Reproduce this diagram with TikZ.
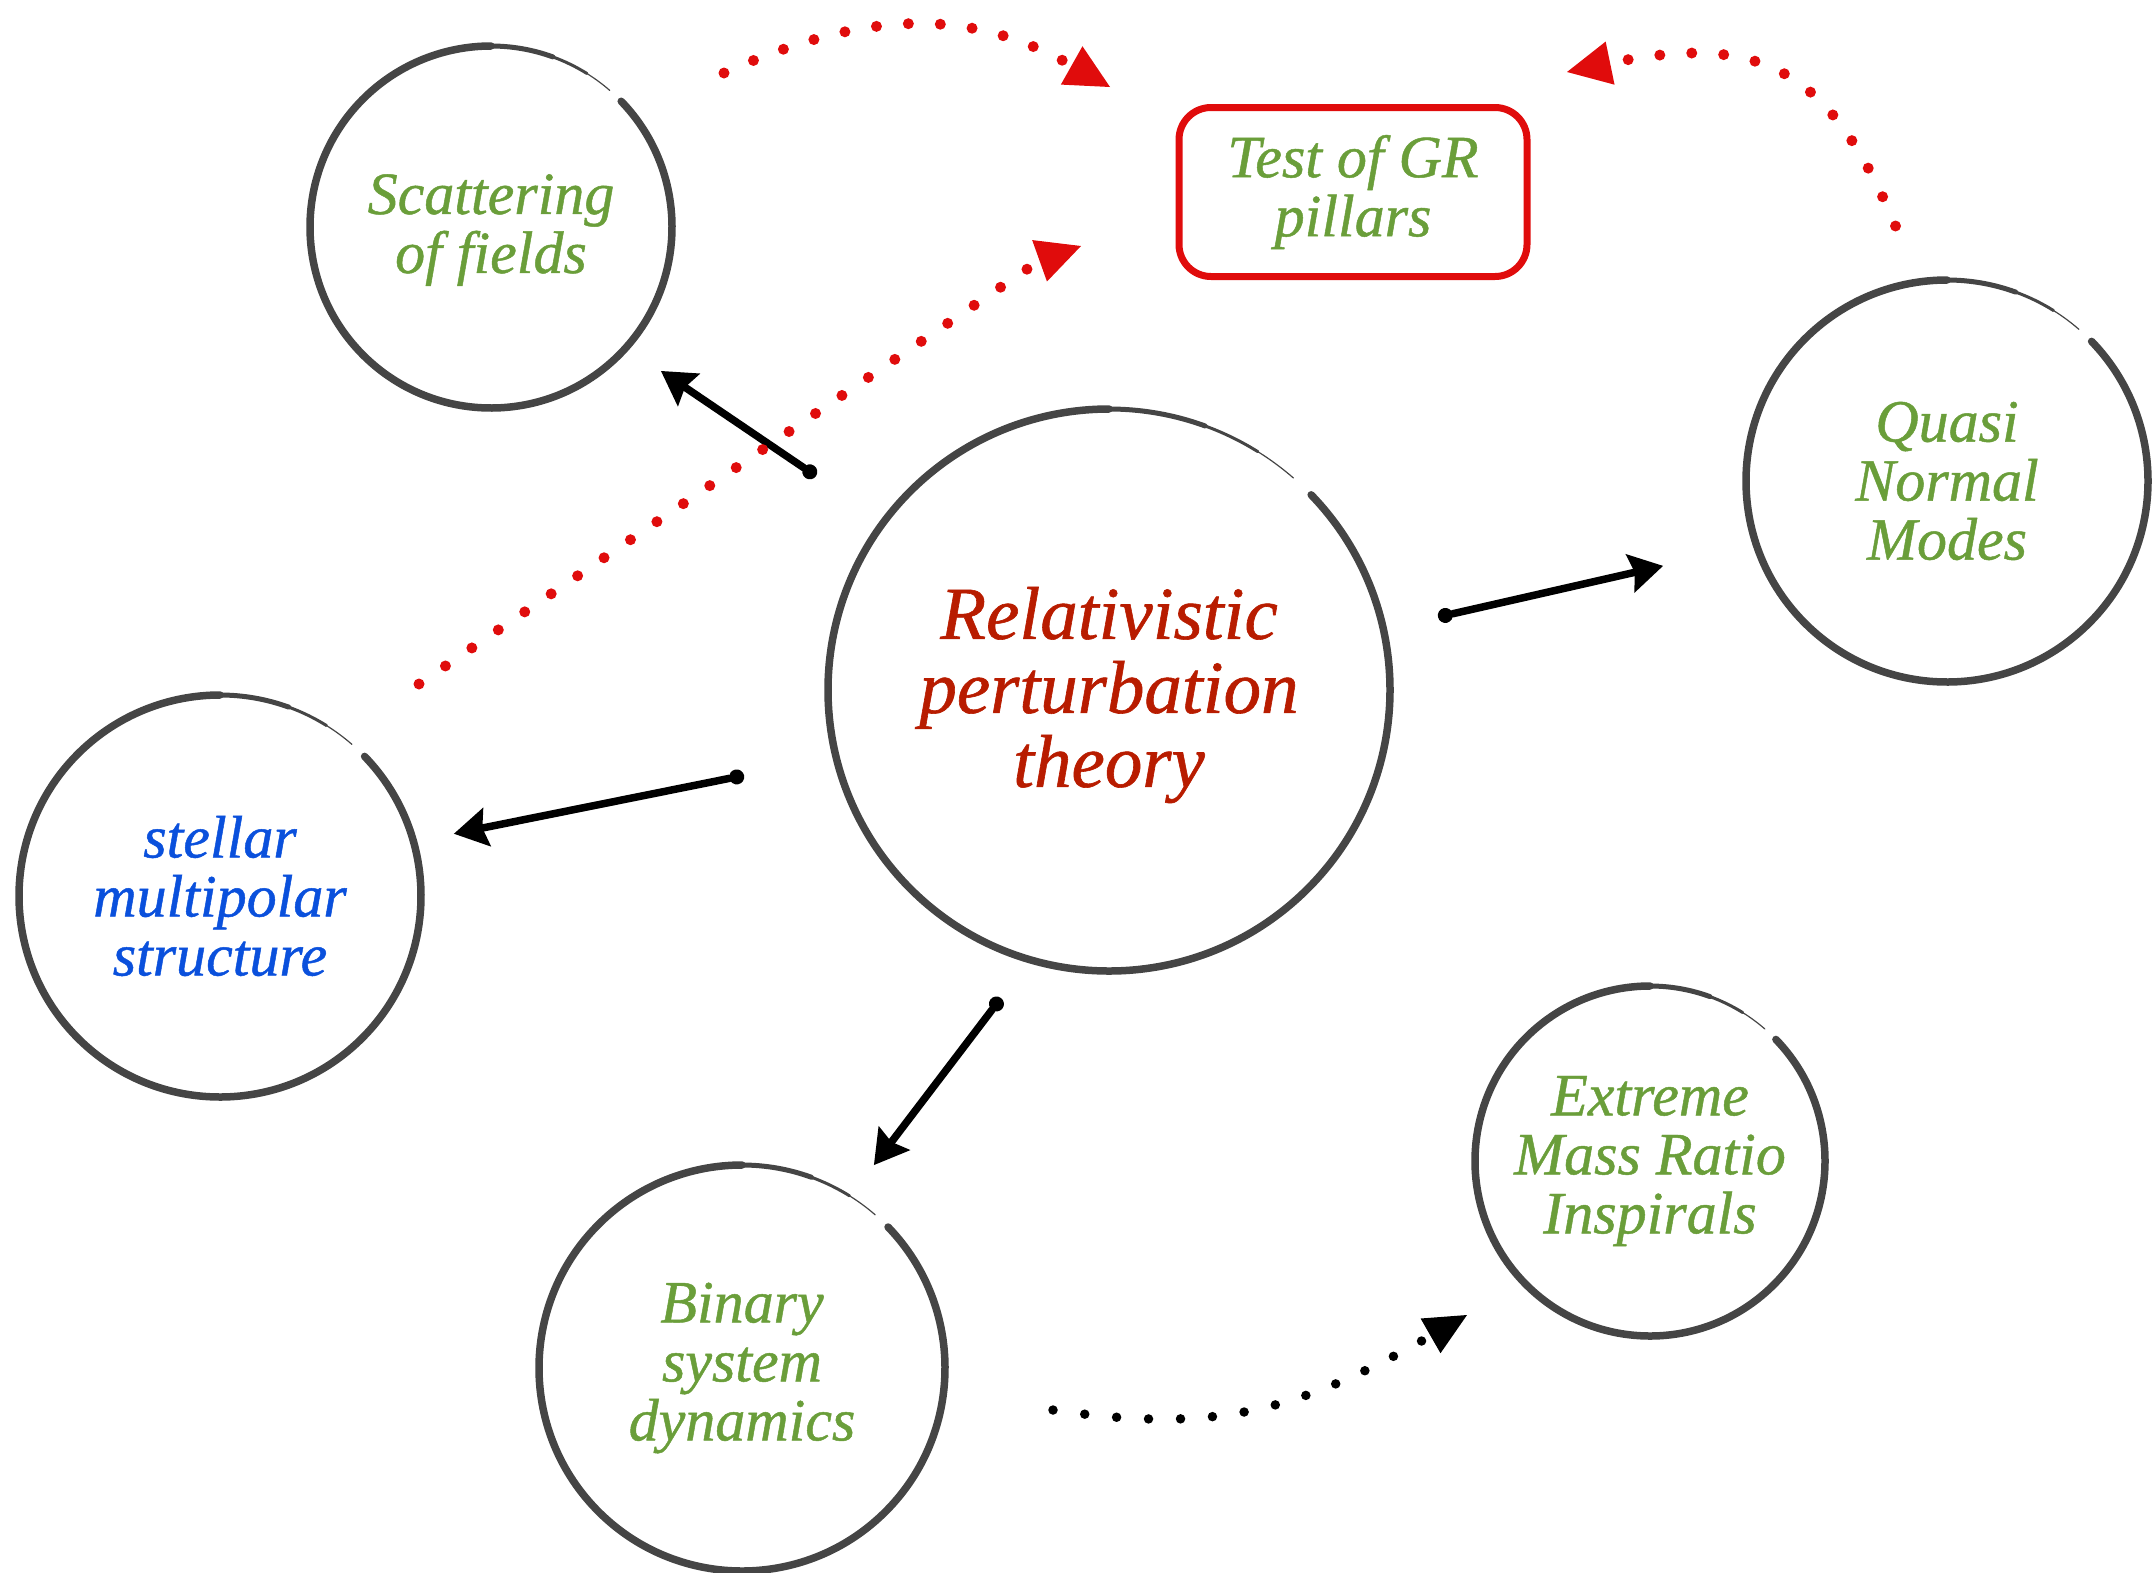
\documentclass[tikz,border=0pt]{standalone}
\usepackage{fontspec}
\setmainfont[ItalicFeatures={FakeBold=0.8}]{Liberation Serif}
\usetikzlibrary{arrows.meta,calc}
\definecolor{ggreen}{HTML}{6A9E3A}
\definecolor{tred}{HTML}{B81C00}
\definecolor{sblue}{HTML}{0A50DC}
\definecolor{boxred}{HTML}{E00C0C}
\definecolor{circgray}{HTML}{454545}
\tikzset{
  bubble/.style={circle, inner sep=0pt, outer sep=0pt, align=center},
  greentext/.style={text=ggreen, font=\fontsize{60}{59}\selectfont\itshape},
  bluetext/.style={text=sblue, font=\fontsize{60}{59}\selectfont\itshape},
  redtext/.style={text=tred, font=\fontsize{75}{74}\selectfont\itshape},
  circline/.style={draw=circgray, line width=7.5pt, line cap=round},
  blk/.style={draw=black, line width=7.5pt, line cap=round,
    {Circle[length=15pt,line width=0pt]}-{Stealth[length=34pt,width=40pt,inset=5pt,line width=0pt]}},
  reddot/.style={draw=boxred, line width=11pt, line cap=round, dash pattern=on 0pt off 32pt,
    -{Triangle[length=44pt,width=44pt,line width=0pt]}},
  blkdot/.style={draw=black, line width=9.5pt, line cap=round, dash pattern=on 0pt off 32pt,
    -{Triangle[length=42pt,width=40pt,line width=0pt]}},
  testbox/.style={draw=boxred, line width=7pt, rounded corners=32pt, minimum width=348pt,
    minimum height=169pt, align=center, inner sep=0pt}
}
\newcommand\skcirc[2]{%
  \draw[circline] ($(#1)+(-44:#2)$) arc[start angle=-44, end angle=270, radius=#2];
  \draw[circline, line width=5pt] ($(#1)+(270:#2)$) arc[start angle=270, end angle=290, radius=#2];
  \draw[circline, line width=3pt] ($(#1)+(290:#2)$) arc[start angle=290, end angle=302, radius=#2];
  \draw[circline, line width=1.2pt] ($(#1)+(302:#2)$) arc[start angle=302, end angle=311, radius=#2];
}
\begin{document}
\begin{tikzpicture}[x=1pt,y=-1pt]
\useasboundingbox (0,0) rectangle (2155,1572);
% nodes
\node[bubble, minimum size=362pt, greentext] (scat) at (491,230) {Scattering\\of fields};
\node[bubble, minimum size=562pt, redtext] (rel) at (1109,695) {Relativistic\\perturbation\\theory};
\node[bubble, minimum size=402pt, greentext] (qnm) at (1947,481) {Quasi\\Normal\\Modes};
\node[bubble, minimum size=402pt, bluetext] (stel) at (220,896) {stellar\\multipolar\\structure};
\node[bubble, minimum size=406pt, greentext] (bin) at (742,1368) {Binary\\system\\dynamics};
\node[bubble, minimum size=350pt, greentext] (emri) at (1650,1161) {Extreme\\Mass Ratio\\Inspirals};
\node[testbox, greentext] (test) at (1353,192) {Test of GR\\pillars};
% circles
\coordinate (scatc) at (491,227);
\coordinate (relc) at (1109,690);
\coordinate (testc) at (1353,188);
\skcirc{scatc}{181}
\skcirc{relc}{281}
\skcirc{qnm}{201}
\skcirc{stel}{201}
\skcirc{bin}{203}
\skcirc{emri}{175}
% solid arrows
\draw[blk] ($(relc)!362.8pt!0.7:(scatc)$) -- ($(scatc)!222.8pt!-3.43:(relc)$);
\draw[blk] ($(relc)!337pt!-1.51:(qnm)$) -- ($(qnm)!296.4pt!2.64:(relc)$);
\draw[blk] ($(relc)!374.8pt!0.13:(stel)$) -- ($(stel)!242.1pt!1.86:(relc)$);
\draw[blk] ($(relc)!326.4pt!9.1:(bin)$) -- ($(bin)!242.1pt!-4.6:(relc)$);
% dotted connectors
\draw[reddot] ($(stel)+(199,-212)$) -- ($(testc)+(-314,73)$) -- ($(testc)+(-272,58)$);
\draw[reddot] ($(scatc)+(233,-154)$) .. controls (874.6,5.5) and (975,11) .. ($(testc)+(-243,-101)$);
\draw[reddot] ($(qnm)+(-51.5,-255)$) .. controls (1830,69) and (1761,32) .. ($(testc)+(214,-116)$);
\draw[blkdot] ($(bin)+(311,42)$) .. controls (1211.5,1433) and (1294,1414) .. ($(emri)+(-183,154)$);
\end{tikzpicture}
\end{document}
